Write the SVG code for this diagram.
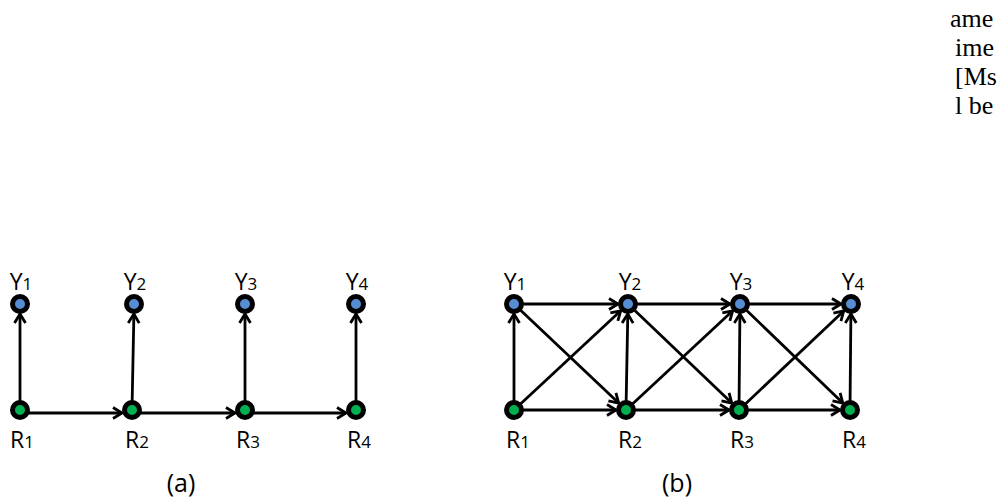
<svg xmlns="http://www.w3.org/2000/svg" width="1008" height="502" viewBox="0 0 1008 502">
<style>
.e{stroke:#000;stroke-width:2.8;fill:none;marker-end:url(#ah)}
.y{fill:#558ED5;stroke:#000;stroke-width:5}
.r{fill:#00B050;stroke:#000;stroke-width:5}
.lb{font-family:"Open Sans","Liberation Sans",sans-serif;font-size:23px;fill:#000;text-anchor:middle}
.sb{font-size:17px}
.cap{font-family:"Open Sans","Liberation Sans",sans-serif;font-size:25px;fill:#000;text-anchor:middle}
.tx{font-family:"Liberation Serif","DejaVu Serif",serif;font-size:26px;fill:#000}
</style>
<defs>
<marker id="ah" markerUnits="userSpaceOnUse" markerWidth="14" markerHeight="14" viewBox="-11 -7 14 14" refX="0" refY="0" orient="auto">
<path d="M-9,-5.5 L0,0 L-9,5.5" fill="none" stroke="#000" stroke-width="2.8" stroke-linejoin="miter"/>
</marker>
</defs>
<g id="connectors">
<line class="e" x1="20" y1="410" x2="20" y2="314"/>
<line class="e" x1="132" y1="410" x2="133.9" y2="314"/>
<line class="e" x1="245" y1="410" x2="245" y2="314"/>
<line class="e" x1="356" y1="410" x2="356" y2="314"/>
<line class="e" x1="20" y1="413" x2="122" y2="413"/>
<line class="e" x1="132" y1="413" x2="235" y2="413"/>
<line class="e" x1="245" y1="413" x2="346" y2="413"/>
<line class="e" x1="514" y1="304" x2="618" y2="304"/>
<line class="e" x1="628" y1="304" x2="730" y2="304"/>
<line class="e" x1="740" y1="304" x2="841" y2="304"/>
<line class="e" x1="514" y1="410" x2="616" y2="410"/>
<line class="e" x1="626" y1="410" x2="729" y2="410"/>
<line class="e" x1="739" y1="410" x2="840" y2="410"/>
<line class="e" x1="514" y1="410" x2="514" y2="314"/>
<line class="e" x1="626" y1="410" x2="627.8" y2="314"/>
<line class="e" x1="739" y1="410" x2="739.9" y2="314"/>
<line class="e" x1="850" y1="410" x2="850.9" y2="314"/>
<line class="e" x1="514" y1="304" x2="618.7" y2="403.1"/>
<line class="e" x1="628" y1="304" x2="731.8" y2="403.1"/>
<line class="e" x1="740" y1="304" x2="842.8" y2="403.1"/>
<line class="e" x1="514" y1="410" x2="620.7" y2="310.8"/>
<line class="e" x1="626" y1="410" x2="732.7" y2="310.8"/>
<line class="e" x1="739" y1="410" x2="843.7" y2="310.9"/>
</g>
<g id="a-Y1"><circle class="y" cx="20" cy="304" r="7.5"/><text class="lb" x="21" y="290">Y<tspan class="sb">1</tspan></text></g>
<g id="a-Y2"><circle class="y" cx="134" cy="304" r="7.5"/><text class="lb" x="135" y="290">Y<tspan class="sb">2</tspan></text></g>
<g id="a-Y3"><circle class="y" cx="245" cy="304" r="7.5"/><text class="lb" x="246" y="290">Y<tspan class="sb">3</tspan></text></g>
<g id="a-Y4"><circle class="y" cx="356" cy="304" r="7.5"/><text class="lb" x="357" y="290">Y<tspan class="sb">4</tspan></text></g>
<g id="a-R1"><circle class="r" cx="20" cy="410" r="7.5"/><text class="lb" x="22" y="448">R<tspan class="sb">1</tspan></text></g>
<g id="a-R2"><circle class="r" cx="132" cy="410" r="7.5"/><text class="lb" x="137" y="448">R<tspan class="sb">2</tspan></text></g>
<g id="a-R3"><circle class="r" cx="245" cy="410" r="7.5"/><text class="lb" x="248" y="448">R<tspan class="sb">3</tspan></text></g>
<g id="a-R4"><circle class="r" cx="356" cy="410" r="7.5"/><text class="lb" x="359" y="448">R<tspan class="sb">4</tspan></text></g>
<g id="b-Y1"><circle class="y" cx="514" cy="304" r="7.5"/><text class="lb" x="515" y="290">Y<tspan class="sb">1</tspan></text></g>
<g id="b-Y2"><circle class="y" cx="628" cy="304" r="7.5"/><text class="lb" x="630" y="290">Y<tspan class="sb">2</tspan></text></g>
<g id="b-Y3"><circle class="y" cx="740" cy="304" r="7.5"/><text class="lb" x="741" y="290">Y<tspan class="sb">3</tspan></text></g>
<g id="b-Y4"><circle class="y" cx="851" cy="304" r="7.5"/><text class="lb" x="853" y="290">Y<tspan class="sb">4</tspan></text></g>
<g id="b-R1"><circle class="r" cx="514" cy="410" r="7.5"/><text class="lb" x="518" y="448">R<tspan class="sb">1</tspan></text></g>
<g id="b-R2"><circle class="r" cx="626" cy="410" r="7.5"/><text class="lb" x="630" y="448">R<tspan class="sb">2</tspan></text></g>
<g id="b-R3"><circle class="r" cx="739" cy="410" r="7.5"/><text class="lb" x="742" y="448">R<tspan class="sb">3</tspan></text></g>
<g id="b-R4"><circle class="r" cx="850" cy="410" r="7.5"/><text class="lb" x="854" y="448">R<tspan class="sb">4</tspan></text></g>
<g id="captions">
<text class="cap" x="181" y="492">(a)</text>
<text class="cap" x="677" y="492">(b)</text>
</g>
<g id="page-text">
<text class="tx" x="950" y="27">ame</text>
<text class="tx" x="955" y="56">ime</text>
<text class="tx" x="955" y="85">[Ms</text>
<text class="tx" x="955" y="114">l be</text>
</g>
</svg>
